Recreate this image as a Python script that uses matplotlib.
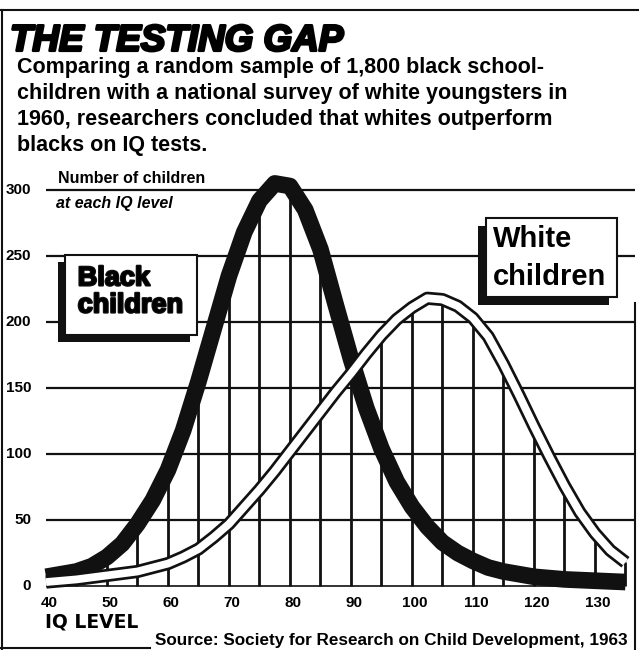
import matplotlib.pyplot as plt
import matplotlib.patheffects as pe
from matplotlib.patches import Rectangle
from matplotlib.lines import Line2D

# IQ level (every 2.5 points) and number of children
iq = [40, 42.5, 45, 47.5, 50, 52.5, 55, 57.5, 60, 62.5, 65, 67.5, 70, 72.5,
      75, 77.5, 80, 82.5, 85, 87.5, 90, 92.5, 95, 97.5, 100, 102.5, 105,
      107.5, 110, 112.5, 115, 117.5, 120, 122.5, 125, 127.5, 130, 132.5, 135]
black_children = [7, 9, 11, 15, 22, 32, 47, 65, 88, 118, 155, 195, 235, 268,
                  292, 305, 303, 285, 255, 213, 172, 135, 104, 79, 60, 45, 33,
                  25, 19, 14, 11, 9, 7, 6, 5, 4.5, 4, 3.5, 3]
white_children = [3, 4, 5, 6.5, 8, 9.5, 11, 14, 17, 22, 28, 37, 47, 60,
                  73, 87, 102, 117, 132, 147, 161, 176, 190, 202, 211, 218, 217,
                  212, 203, 189, 168, 145, 121, 98, 76, 56, 40, 27, 18]

y_ticks = [0, 50, 100, 150, 200, 250, 300]
x_ticks = [40, 50, 60, 70, 80, 90, 100, 110, 120, 130]
subtitle = ["Comparing a random sample of 1,800 black school-",
            "children with a national survey of white youngsters in",
            "1960, researchers concluded that whites outperform",
            "blacks on IQ tests."]

SANS = ['Liberation Sans', 'DejaVu Sans']
INK = '#111111'

fig = plt.figure(figsize=(6.39, 6.5), dpi=100)
ax = fig.add_axes([0.0529, 0.0822, 0.945, 0.6661])
ax.set_xlim(38, 137)
ax.set_ylim(-8, 320)
ax.axis('off')

# grid: horizontal rules and vertical rules that stop at the curves
ax.hlines(y_ticks[1:], 40, 136.6, color=INK, lw=1.6, zorder=1)
ax.hlines(0, 40, 135, color=INK, lw=1.2, zorder=1)
tops = {x: max(b, w) for x, b, w in zip(iq, black_children, white_children)}
grid_x = [x for x in iq if x % 5 == 0 and x >= 45]
ax.vlines(grid_x, 0, [tops[x] for x in grid_x], color=INK, lw=2, zorder=1)

# curves
ax.plot(iq, black_children, color=INK, lw=12, solid_capstyle='butt',
        solid_joinstyle='round', zorder=3)
ax.plot(iq, white_children, color=INK, lw=9.5, solid_capstyle='butt',
        solid_joinstyle='round', zorder=4)
ax.plot(iq, white_children, color='white', lw=5.6, solid_capstyle='butt',
        solid_joinstyle='round', zorder=5)

# label boxes with drop shadow
def label_box(x, y, w, h, dx, dy):
    ax.add_patch(Rectangle((x + dx, y + dy), w, h, fc=INK, ec='none', zorder=6))
    ax.add_patch(Rectangle((x, y), w, h, fc='white', ec=INK, lw=1.5, zorder=7))

label_box(43.1, 190.2, 21.7, 60.6, -1.15, -5.3)
label_box(112.1, 218.9, 21.5, 59.9, -1.3, -6)

heavy = [pe.withStroke(linewidth=1.6, foreground=INK)]
ax.text(45.2, 233, 'Black', family=SANS, weight='bold', fontsize=19.5,
        va='center', ha='left', zorder=8, path_effects=heavy)
ax.text(45.2, 212.5, 'children', family=SANS, weight='bold', fontsize=19.5,
        va='center', ha='left', zorder=8, path_effects=heavy)
ax.text(113.3, 263, 'White', family=SANS, weight='bold', fontsize=21,
        va='center', ha='left', zorder=8)
ax.text(113.3, 234, 'children', family=SANS, weight='bold', fontsize=21,
        va='center', ha='left', zorder=8)

# axis text
for v in y_ticks:
    ax.text(37.6, v, str(v), family=SANS, weight='bold', fontsize=11,
            ha='right', va='center')
for v in x_ticks:
    ax.text(v + 0.5, -13, str(v), family=SANS, weight='bold', fontsize=11,
            ha='center', va='center')
ax.text(39.8, -27.5, 'IQ LEVEL', family='DejaVu Sans', weight='bold',
        fontsize=13.5, ha='left', va='center')
ax.text(42, 309, 'Number of children', family=SANS, weight='bold',
        fontsize=11.5, ha='left', va='center')
ax.text(41.6, 290, 'at each IQ level', family=SANS, weight='bold',
        style='italic', fontsize=11.5, ha='left', va='center')

# header
fig.text(0.0156, 0.922, 'THE TESTING GAP', family=SANS, weight='bold',
         style='italic', fontsize=26.5, ha='left', va='baseline',
         path_effects=[pe.withStroke(linewidth=2, foreground='black')])
for i, line in enumerate(subtitle):
    fig.text(0.026, 1 - (73.5 + 26 * i) / 650, line, family=SANS,
             weight='bold', fontsize=15.5, ha='left', va='baseline')
fig.text(0.2426, 0.008, 'Source: Society for Research on Child Development, 1963',
         family=SANS, weight='bold', fontsize=12.3, ha='left', va='baseline')

# frame rules
for xs, ys in [([0, 1], [0.985, 0.985]), ([0.003, 0.003], [0, 0.985]),
               ([0, 0.235], [0.003, 0.003]), ([0.9937, 0.9937], [0, 0.534])]:
    fig.add_artist(Line2D(xs, ys, transform=fig.transFigure, color=INK, lw=1.5))

fig.savefig('out.png', dpi=100)
